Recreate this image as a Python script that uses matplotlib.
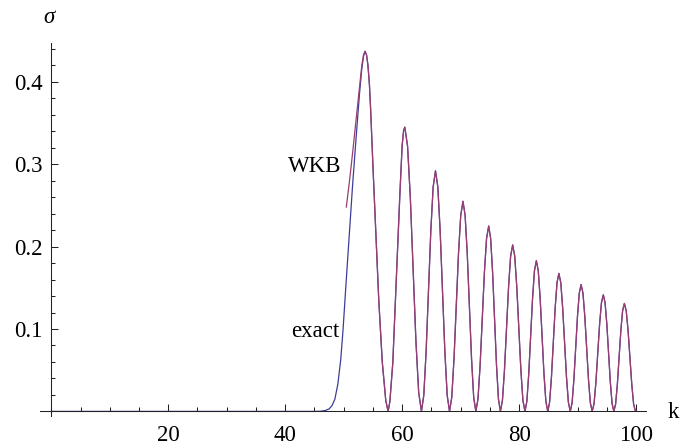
import matplotlib
matplotlib.use("Agg")
import matplotlib.pyplot as plt
from matplotlib.ticker import FixedLocator, MultipleLocator

# Cross section sigma(k): exact result
exact_k = [
    0.0, 45.0, 46.0, 46.8, 47.5, 48.0, 48.5, 49.0, 49.5, 49.9, 50.4, 50.97,
    51.5, 52.1, 52.7, 53.1, 53.4, 53.65, 53.9, 54.15, 54.4, 54.6, 55.05, 55.6,
    56.0, 56.6, 57.2, 57.6,
    57.9, 58.4, 59.0, 59.6, 60.0, 60.25, 60.45, 60.925, 61.4, 61.875, 62.35,
    62.825, 63.3,
    63.7, 64.1, 64.5, 64.9, 65.3, 65.7, 66.1, 66.5, 66.9, 67.3, 67.7, 68.1,
    68.483, 68.867, 69.25, 69.633, 70.017, 70.4, 70.767, 71.133, 71.5, 71.867,
    72.233, 72.6,
    72.967, 73.333, 73.7, 74.067, 74.433, 74.8, 75.133, 75.467, 75.8, 76.133,
    76.467, 76.8,
    77.15, 77.5, 77.85, 78.2, 78.55, 78.9, 79.25, 79.6, 79.95, 80.3, 80.65, 81.0,
    81.325, 81.65, 81.975, 82.3, 82.625, 82.95, 83.275, 83.6, 83.925, 84.25,
    84.575, 84.9,
    85.217, 85.533, 85.85, 86.167, 86.483, 86.8, 87.125, 87.45, 87.775, 88.1,
    88.425, 88.75,
    89.058, 89.367, 89.675, 89.983, 90.292, 90.6, 90.917, 91.233, 91.55, 91.867,
    92.183, 92.5,
    92.817, 93.133, 93.45, 93.767, 94.083, 94.4, 94.7, 95.0, 95.3, 95.6, 95.9,
    96.2,
    96.5, 96.8, 97.1, 97.4, 97.7, 98.0, 98.317, 98.633, 98.95, 99.267, 99.583,
    99.9, 100.0,
]
exact_sigma = [
    0.0, 0.0, 0.0002, 0.001, 0.003, 0.007, 0.015, 0.033, 0.063, 0.100, 0.155,
    0.215, 0.272, 0.330, 0.385, 0.416, 0.431, 0.437, 0.433, 0.420, 0.397, 0.368,
    0.290, 0.200, 0.135, 0.060, 0.013, 0.0,
    0.012, 0.059, 0.161, 0.262, 0.323, 0.341, 0.345, 0.322, 0.259, 0.173, 0.086,
    0.023, 0.0,
    0.0196, 0.073, 0.146, 0.219, 0.2724, 0.292, 0.2724, 0.219, 0.146, 0.073,
    0.0196, 0.0,
    0.0171, 0.0638, 0.1275, 0.1913, 0.2379, 0.255, 0.2379, 0.1913, 0.1275,
    0.0638, 0.0171, 0.0,
    0.0151, 0.0563, 0.1125, 0.1688, 0.2099, 0.225, 0.2099, 0.1688, 0.1125,
    0.0563, 0.0151, 0.0,
    0.0135, 0.0505, 0.101, 0.1515, 0.1885, 0.202, 0.1885, 0.1515, 0.101, 0.0505,
    0.0135, 0.0,
    0.0123, 0.0458, 0.0915, 0.1373, 0.1707, 0.183, 0.1707, 0.1373, 0.0915,
    0.0458, 0.0123, 0.0,
    0.0112, 0.0419, 0.0838, 0.1256, 0.1563, 0.1675, 0.1563, 0.1256, 0.0838,
    0.0419, 0.0112, 0.0,
    0.0103, 0.0385, 0.077, 0.1155, 0.1437, 0.154, 0.1437, 0.1155, 0.077, 0.0385,
    0.0103, 0.0,
    0.0095, 0.0354, 0.0708, 0.1061, 0.132, 0.1415, 0.132, 0.1061, 0.0708,
    0.0354, 0.0095, 0.0,
    0.0088, 0.0328, 0.0655, 0.0983, 0.1222, 0.131, 0.1222, 0.0983, 0.0655,
    0.0328, 0.0088, 0.0, 0.001,
]

# WKB approximation: its own rising branch, then it follows the exact curve
wkb_rise_k = [50.45, 51.0, 51.5, 52.1, 52.7, 53.1, 53.4]
wkb_rise_sigma = [0.248, 0.280, 0.312, 0.352, 0.393, 0.420, 0.433]
wkb_join_k = 53.65

x_major = [20, 40, 60, 80, 100]
x_major_labels = ["20", "40", "60", "80", "100"]
y_major = [0.1, 0.2, 0.3, 0.4]
y_major_labels = ["0.1", "0.2", "0.3", "0.4"]

EXACT_COLOR = (0.24, 0.24, 0.6)
WKB_COLOR = (0.6, 0.24, 0.4428)

plt.rcParams["font.family"] = ["Liberation Serif", "DejaVu Serif"]
plt.rcParams["font.size"] = 16.5

fig = plt.figure(figsize=(6.8, 4.48), dpi=100)
ax = fig.add_axes([0.0585, 0.0712, 0.950 - 0.0585, 0.9042 - 0.0712])

wkb_k = wkb_rise_k + [k for k in exact_k if k >= wkb_join_k]
wkb_sigma = wkb_rise_sigma + [s for k, s in zip(exact_k, exact_sigma) if k >= wkb_join_k]

ax.plot(exact_k, exact_sigma, color=EXACT_COLOR, lw=0.9, solid_joinstyle="round")
ax.plot(wkb_k, wkb_sigma, color=WKB_COLOR, lw=0.9, solid_joinstyle="round")

ax.set_xlim(-1.97, 101.7)
ax.set_ylim(-0.0057, 0.4472)

for side in ("top", "right"):
    ax.spines[side].set_visible(False)
ax.spines["left"].set_position(("data", 0))
ax.spines["bottom"].set_position(("data", 0))
for side in ("left", "bottom"):
    ax.spines[side].set_linewidth(0.75)
    ax.spines[side].set_color("#222222")

ax.xaxis.set_major_locator(FixedLocator(x_major))
ax.set_xticklabels(x_major_labels)
ax.xaxis.set_minor_locator(MultipleLocator(5))
ax.yaxis.set_major_locator(FixedLocator(y_major))
ax.set_yticklabels(y_major_labels)
ax.yaxis.set_minor_locator(MultipleLocator(0.02))

ax.tick_params(which="both", direction="in", width=0.75, color="#222222",
               labelsize=16.5, labelcolor="black")
ax.tick_params(which="major", length=5)
ax.tick_params(which="minor", length=3)
ax.tick_params(axis="x", which="major", pad=10)
ax.tick_params(axis="y", which="major", pad=6.3)

ax.text(49.66, 0.2903, "WKB", ha="right", va="baseline", fontsize=16.5)
ax.text(49.3, 0.0904, "exact", ha="right", va="baseline", fontsize=16.5)

fig.text(668 / 680, 1 - 418 / 448, "k", ha="left", va="baseline", fontsize=16.5)
fig.text(43 / 680, 1 - 22.7 / 448, "σ", ha="left", va="baseline",
         fontsize=16.5, style="italic")

fig.savefig("out.png", dpi=100)
